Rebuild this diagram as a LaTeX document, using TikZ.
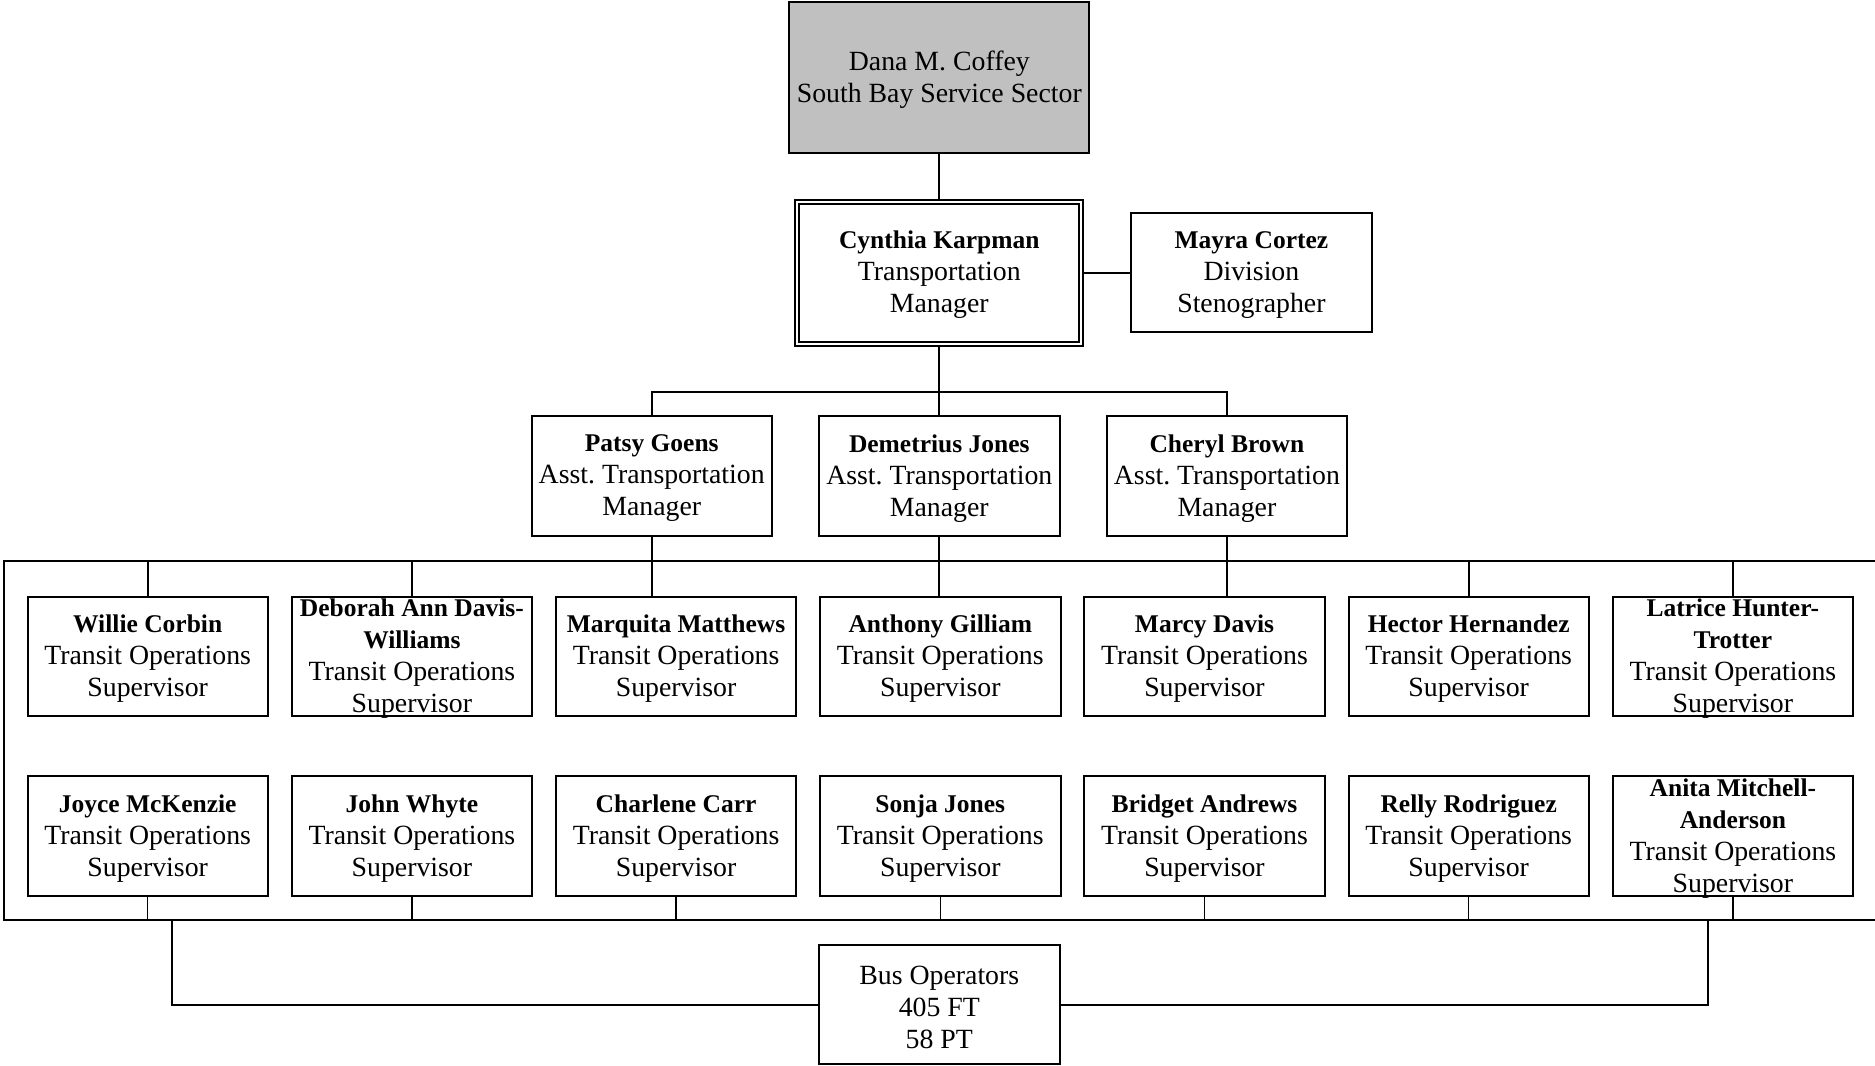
\documentclass[tikz,border=0pt]{standalone}
\usepackage{fontspec}
\setmainfont{Liberation Serif}
\frenchspacing
\newcommand{\NM}[1]{{\fontsize{25.5}{32}\selectfont\bfseries #1}}
\tikzset{
 bx/.style={draw, line width=2pt, minimum width=240.4pt, minimum height=119.6pt, inner sep=0pt},
 tx/.style={align=center, inner sep=0pt, yshift=-2.5pt, font=\fontsize{27.8}{32}\selectfont},
 ln/.style={line width=2pt},
 tk/.style={line width=1.3pt}
}
\begin{document}
\begin{tikzpicture}[x=1pt,y=-1pt]
\useasboundingbox (0,0) rectangle (1875,1066);
% top
\node[bx, fill={rgb,255:red,192;green,192;blue,192}, minimum width=300.2pt, minimum height=151pt] (dana) at (939.3,77.5) {};
\node[tx] (danat) at (dana) {Dana M. Coffey\\South Bay Service Sector};
\node[bx, minimum width=288.2pt, minimum height=145.9pt] (cyn) at (939.3,272.6) {};
\draw[ln] ([shift={(5,5)}]cyn.north west) rectangle ([shift={(-5,-5)}]cyn.south east);
\node[tx] (cynt) at (cyn) {\NM{Cynthia Karpman}\\Transportation\\Manager};
\node[bx] (may) at (1251.4,272.6) {};
\node[tx] (mayt) at (may) {\NM{Mayra Cortez}\\Division\\Stenographer};
% assistants
\node[bx] (pat) at (651.7,475.9) {};
\node[tx] (patt) at (pat) {\NM{Patsy Goens}\\Asst. Transportation\\Manager};
\node[bx] (dem) at (939.3,475.9) {};
\node[tx] (demt) at (dem) {\NM{Demetrius Jones}\\Asst. Transportation\\Manager};
\node[bx] (che) at (1226.9,475.9) {};
\node[tx] (chet) at (che) {\NM{Cheryl Brown}\\Asst. Transportation\\Manager};
% row 1
\node[bx] (w1) at (147.7,656.5) {};
\node[tx] (w1t) at (w1) {\NM{Willie Corbin}\\Transit Operations\\Supervisor};
\node[bx] (w2) at (411.9,656.5) {};
\node[tx] (w2t) at (w2) {\NM{Deborah Ann Davis-}\\\NM{Williams}\\Transit Operations\\Supervisor};
\node[bx] (w3) at (676.1,656.5) {};
\node[tx] (w3t) at (w3) {\NM{Marquita Matthews}\\Transit Operations\\Supervisor};
\node[bx] (w4) at (940.3,656.5) {};
\node[tx] (w4t) at (w4) {\NM{Anthony Gilliam}\\Transit Operations\\Supervisor};
\node[bx] (w5) at (1204.5,656.5) {};
\node[tx] (w5t) at (w5) {\NM{Marcy Davis}\\Transit Operations\\Supervisor};
\node[bx] (w6) at (1468.7,656.5) {};
\node[tx] (w6t) at (w6) {\NM{Hector Hernandez}\\Transit Operations\\Supervisor};
\node[bx] (w7) at (1732.9,656.5) {};
\node[tx] (w7t) at (w7) {\NM{Latrice Hunter-}\\\NM{Trotter}\\Transit Operations\\Supervisor};
% row 2
\node[bx] (v1) at (147.7,835.9) {};
\node[tx] (v1t) at (v1) {\NM{Joyce McKenzie}\\Transit Operations\\Supervisor};
\node[bx] (v2) at (411.9,835.9) {};
\node[tx] (v2t) at (v2) {\NM{John Whyte}\\Transit Operations\\Supervisor};
\node[bx] (v3) at (676.1,835.9) {};
\node[tx] (v3t) at (v3) {\NM{Charlene Carr}\\Transit Operations\\Supervisor};
\node[bx] (v4) at (940.3,835.9) {};
\node[tx] (v4t) at (v4) {\NM{Sonja Jones}\\Transit Operations\\Supervisor};
\node[bx] (v5) at (1204.5,835.9) {};
\node[tx] (v5t) at (v5) {\NM{Bridget Andrews}\\Transit Operations\\Supervisor};
\node[bx] (v6) at (1468.7,835.9) {};
\node[tx] (v6t) at (v6) {\NM{Relly Rodriguez}\\Transit Operations\\Supervisor};
\node[bx] (v7) at (1732.9,835.9) {};
\node[tx] (v7t) at (v7) {\NM{Anita Mitchell-}\\\NM{Anderson}\\Transit Operations\\Supervisor};
% bus
\node[bx] (bus) at (939.3,1004.5) {};
\node[tx] (bust) at (bus) {Bus Operators\\405 FT\\58 PT};
% connectors
\coordinate (hb) at (939.3,392.2);
\coordinate (rtop) at (3.6,560.8);
\coordinate (rbot) at (3.6,919.6);
\coordinate (rbl) at (172.2,919.6);
\coordinate (rbr) at (1707.6,919.6);
\draw[ln] (dana.south) -- (cyn.north);
\draw[ln] (cyn.east) -- (may.west);
\draw[ln] (cyn.south) -- (hb);
\draw[ln] (pat.north) -- (pat.north |- hb) -- (che.north |- hb) -- (che.north);
\draw[ln] (hb) -- (dem.north);
\draw[ln] (1890,560.8) -- (rtop) -- (rbot) -- (1890,919.6);
\foreach \n in {w1,w2,w6,w7} \draw[ln] (\n.north) -- (\n.north |- rtop);
\draw[ln] (pat.south) -- (pat.south |- w3.north);
\draw[ln] (dem.south) -- (dem.south |- w4.north);
\draw[ln] (che.south) -- (che.south |- w5.north);
\foreach \n in {v1,v2,v3,v4,v5,v6,v7} \draw[tk] (\n.south) -- (\n.south |- rbot);
\draw[ln] (rbl) |- (bus.west);
\draw[ln] (rbr) |- (bus.east);
\end{tikzpicture}
\end{document}
